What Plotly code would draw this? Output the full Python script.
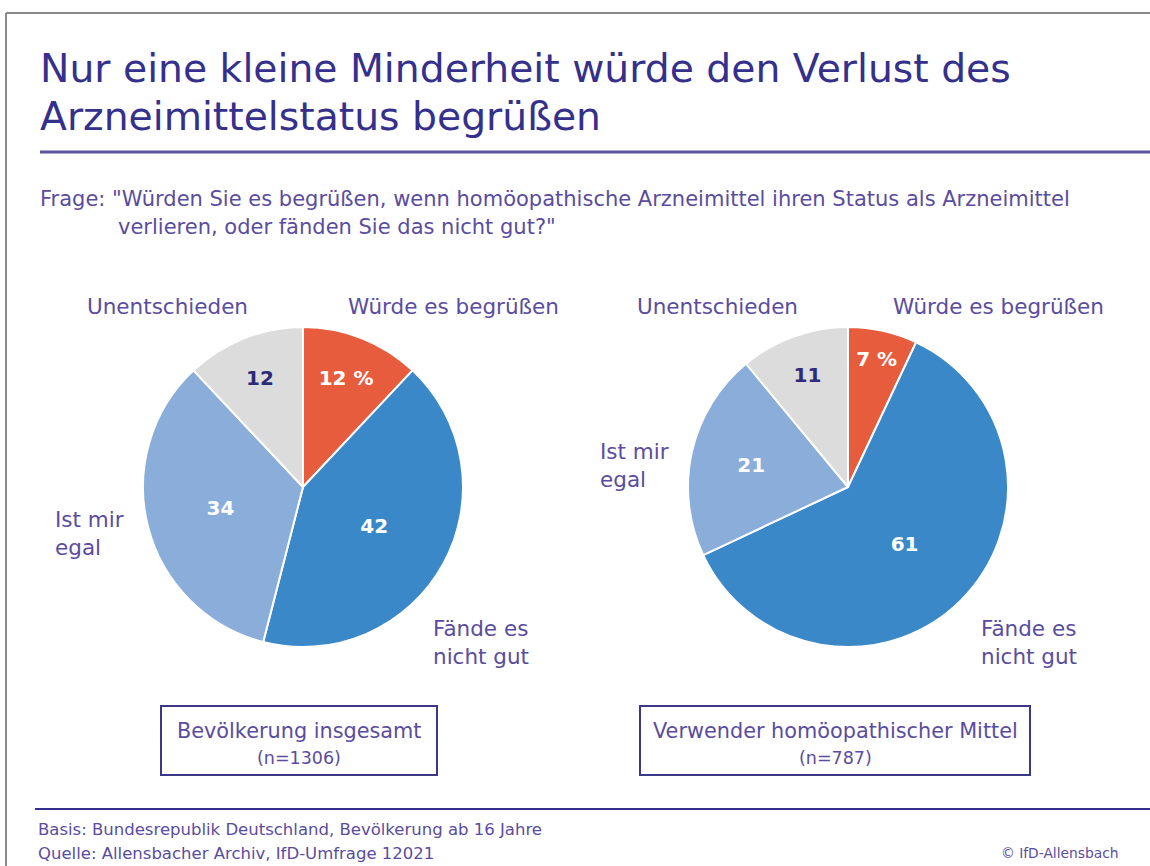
import plotly.graph_objects as go

W, H = 1150, 866

categories = ["Würde es begrüßen", "Fände es nicht gut", "Ist mir egal", "Unentschieden"]
values_total = [12, 42, 34, 12]
values_users = [7, 61, 21, 11]
inside_total = ["12 %", "42", "34", "12"]
inside_users = ["7 %", "61", "21", "11"]
group_titles = ["Bevölkerung insgesamt", "Verwender homöopathischer Mittel"]
group_n = ["(n=1306)", "(n=787)"]

colors = ["#e85c3e", "#3b88c8", "#8aadda", "#dcdcdc"]
text_colors = ["white", "white", "white", "#2e2a7a"]
NAVY = "#34308c"
PURPLE = "#5a4c9e"
FONT = "DejaVu Sans"


def px(x):
    return x / W


def py(y):
    return 1 - y / H


fig = go.Figure()

for vals, txt, cx in [(values_total, inside_total, 303), (values_users, inside_users, 848)]:
    cy, r = 487, 160
    fig.add_trace(go.Pie(
        labels=categories, values=vals, text=txt, textinfo="text",
        textposition="inside", insidetextorientation="horizontal",
        sort=False, direction="clockwise", rotation=0,
        marker=dict(colors=colors, line=dict(color="white", width=2)),
        textfont=dict(family=FONT, size=20, color=text_colors, weight="bold"),
        domain=dict(x=[px(cx - r), px(cx + r)], y=[py(cy + r), py(cy - r)]),
        showlegend=False, hoverinfo="label+value",
    ))

shapes = []
# outer frame (top and left edges)
shapes.append(dict(type="line", xref="paper", yref="paper", x0=px(6), x1=1, y0=py(13), y1=py(13),
                   line=dict(color="#8a8a8a", width=2)))
shapes.append(dict(type="line", xref="paper", yref="paper", x0=px(6), x1=px(6), y0=py(13), y1=0,
                   line=dict(color="#8a8a8a", width=2)))
# separators
shapes.append(dict(type="line", xref="paper", yref="paper", x0=px(40), x1=1, y0=py(152), y1=py(152),
                   line=dict(color="#5a569e", width=3)))
shapes.append(dict(type="line", xref="paper", yref="paper", x0=px(35), x1=1, y0=py(809), y1=py(809),
                   line=dict(color="#34308c", width=2)))
# group boxes
for x0, x1 in [(161, 437), (640, 1030)]:
    shapes.append(dict(type="rect", xref="paper", yref="paper", x0=px(x0), x1=px(x1), y0=py(775), y1=py(706),
                       line=dict(color="#3c3888", width=2)))

ann = []


def text(x, y, s, size, color=PURPLE, xanchor="left", yanchor="middle", align="left"):
    ann.append(dict(x=px(x), y=py(y), xref="paper", yref="paper", text=s, showarrow=False,
                    xanchor=xanchor, yanchor=yanchor, align=align,
                    font=dict(family=FONT, size=size, color=color)))


text(38, 68, "Nur eine kleine Minderheit würde den Verlust des", 39.3, NAVY)
text(38, 116, "Arzneimittelstatus begrüßen", 39.3, NAVY)
text(38, 199, 'Frage: "Würden Sie es begrüßen, wenn homöopathische Arzneimittel ihren Status als Arzneimittel', 21)
text(116, 227, 'verlieren, oder fänden Sie das nicht gut?"', 21)

LS = 21.5
# left pie labels
text(250, 307, categories[3], LS, xanchor="right")
text(346, 307, categories[0], LS)
text(53, 533, "Ist mir<br>egal", LS)
text(431, 642, "Fände es<br>nicht gut", LS)
# right pie labels
text(800, 307, categories[3], LS, xanchor="right")
text(891, 307, categories[0], LS)
text(598, 465, "Ist mir<br>egal", LS)
text(979, 642, "Fände es<br>nicht gut", LS)

# group box text
for cx, t, n in [(299, group_titles[0], group_n[0]), (835, group_titles[1], group_n[1])]:
    text(cx, 731, t, 20.8, xanchor="center")
    text(cx, 758, n, 17.5, xanchor="center")

text(36, 829, "Basis: Bundesrepublik Deutschland, Bevölkerung ab 16 Jahre", 16.5)
text(36, 853, "Quelle: Allensbacher Archiv, IfD-Umfrage 12021", 16.5)
text(1120, 853, "© IfD-Allensbach", 13.8, xanchor="right")

fig.update_layout(
    width=W, height=H, margin=dict(l=0, r=0, t=0, b=0),
    paper_bgcolor="white", plot_bgcolor="white",
    shapes=shapes, annotations=ann,
)

fig.write_html("out.html", config={"displayModeBar": False},
               post_script="document.body.style.margin='0px';")
